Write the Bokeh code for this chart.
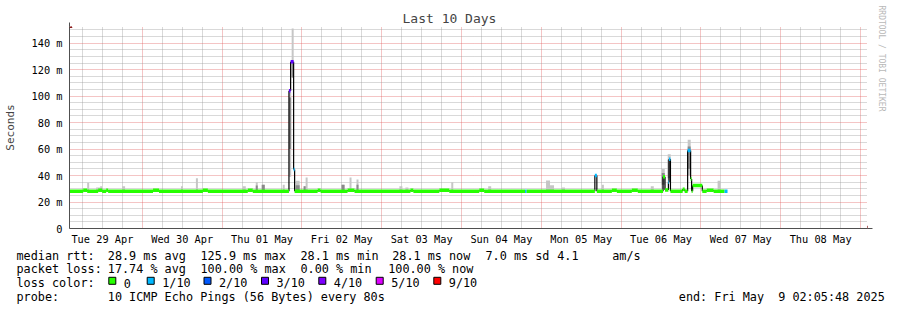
import numpy as np
import pandas as pd
from bokeh.plotting import figure
from bokeh.layouts import column
from bokeh.models import (Range1d, FixedTicker, Title, Arrow, NormalHead, Label)
from bokeh.embed import file_html
from bokeh.resources import INLINE

# ---------------- data ----------------
chart_title = "Last 10 Days"
y_axis_label = "Seconds"
watermark = "RRDTOOL / TOBI OETIKER"
graph_start = "2025-04-29 02:05:48"
graph_end = "2025-05-09 02:05:48"

day_dates = ["2025-04-29", "2025-04-30", "2025-05-01", "2025-05-02", "2025-05-03",
             "2025-05-04", "2025-05-05", "2025-05-06", "2025-05-07", "2025-05-08"]
day_labels = ["Tue 29 Apr", "Wed 30 Apr", "Thu 01 May", "Fri 02 May", "Sat 03 May",
              "Sun 04 May", "Mon 05 May", "Tue 06 May", "Wed 07 May", "Thu 08 May"]

y_ticks = [0, 20, 40, 60, 80, 100, 120, 140]
y_tick_labels = ["0", "20 m", "40 m", "60 m", "80 m", "100 m", "120 m", "140 m"]

loss_labels = ["0", "1/10", "2/10", "3/10", "4/10", "5/10", "9/10"]
loss_colors = ["#26ff00", "#00b8ff", "#0059ff", "#5e00ff", "#7e00ff", "#dd00ff", "#ff0000"]

# median rtt (ms) as steps: each value holds until the next time
median_time = [
    "2025-04-29 02:06", "2025-04-29 06:13", "2025-04-29 07:25", "2025-04-29 10:43",
    "2025-04-29 11:55", "2025-04-29 13:07", "2025-04-29 13:43", "2025-04-30 03:13",
    "2025-04-30 05:01", "2025-04-30 18:13", "2025-04-30 19:43", "2025-05-01 07:43",
    "2025-05-01 09:13", "2025-05-01 20:06", "2025-05-01 20:36", "2025-05-01 21:30",
    "2025-05-01 21:48", "2025-05-02 04:43", "2025-05-02 05:37", "2025-05-02 13:43",
    "2025-05-02 15:49", "2025-05-03 08:37", "2025-05-03 09:31", "2025-05-03 17:19",
    "2025-05-03 20:19", "2025-05-04 05:19", "2025-05-04 06:49", "2025-05-04 19:06",
    "2025-05-04 19:36", "2025-05-05 16:06", "2025-05-05 16:42", "2025-05-05 21:13",
    "2025-05-05 22:43", "2025-05-06 03:13", "2025-05-06 05:01", "2025-05-06 12:36",
    "2025-05-06 13:12", "2025-05-06 14:13", "2025-05-06 14:24", "2025-05-06 14:50",
    "2025-05-06 18:30", "2025-05-06 19:07", "2025-05-06 20:00", "2025-05-06 20:54",
    "2025-05-06 21:12", "2025-05-06 21:30", "2025-05-07 00:25", "2025-05-07 01:43",
    "2025-05-07 03:49", "2025-05-07 07:07",
]
median_ms = [
    28.1, 28.9, 28.1, 28.9, 28.1, 28.9, 28.1, 28.9, 28.1, 28.9, 28.1, 28.9,
    28.1, 104.0, 125.9, 44.6, 28.1, 28.9, 28.1, 28.9, 28.1, 28.9, 28.1, 28.9,
    28.1, 28.9, 28.1, 28.1, 28.1, 40.0, 28.1, 28.9, 28.1, 28.9, 28.1, 39.0,
    29.0, 35.0, 52.4, 28.1, 29.7, 28.1, 59.0, 37.4, 28.1, 32.5, 28.1, 28.9,
    28.1, 28.1,
]
median_loss = [
    0, 0, 0, 0, 0, 0, 0, 0, 0, 0, 0, 0,
    0, 3, 3, 1, 0, 0, 0, 0, 0, 0, 0, 0,
    0, 0, 0, 1, 0, 1, 0, 0, 0, 0, 0, 0,
    0, 1, 1, 0, 0, 0, 1, 0, 0, 0, 0, 0,
    0, 1,
]
median_last = "2025-05-07 08:00"   # 100 % loss afterwards

# smoke (spread of the pings), ms
smoke_from = [
    "2025-04-29 07:25", "2025-04-29 10:07", "2025-04-29 11:19", "2025-04-29 17:55",
    "2025-04-30 11:37", "2025-04-30 16:07", "2025-05-01 06:13", "2025-05-01 10:07",
    "2025-05-01 11:55", "2025-05-01 18:13", "2025-05-01 20:06", "2025-05-01 20:55",
    "2025-05-01 22:07", "2025-05-02 00:31", "2025-05-02 01:07", "2025-05-02 11:55",
    "2025-05-02 14:19", "2025-05-02 16:25", "2025-05-03 05:19", "2025-05-03 07:07",
    "2025-05-03 20:55", "2025-05-04 08:01", "2025-05-05 01:25", "2025-05-05 02:37",
    "2025-05-05 06:13", "2025-05-05 18:13", "2025-05-06 08:55", "2025-05-06 12:13",
    "2025-05-06 14:01", "2025-05-06 20:01", "2025-05-07 05:01",
]
smoke_to = [
    "2025-04-29 08:01", "2025-04-29 11:19", "2025-04-29 11:55", "2025-04-29 18:49",
    "2025-04-30 12:13", "2025-04-30 16:43", "2025-05-01 07:07", "2025-05-01 10:43",
    "2025-05-01 12:49", "2025-05-01 18:49", "2025-05-01 20:46", "2025-05-01 21:31",
    "2025-05-01 23:19", "2025-05-02 01:07", "2025-05-02 01:43", "2025-05-02 12:49",
    "2025-05-02 14:55", "2025-05-02 17:01", "2025-05-03 06:13", "2025-05-03 08:01",
    "2025-05-03 21:31", "2025-05-04 08:55", "2025-05-05 02:37", "2025-05-05 03:49",
    "2025-05-05 07:07", "2025-05-05 18:49", "2025-05-06 09:49", "2025-05-06 13:07",
    "2025-05-06 14:55", "2025-05-06 20:55", "2025-05-07 05:55",
]
smoke_min = [28, 28, 28, 28, 28, 28, 28, 28, 28, 28, 39, 114, 28, 28, 28, 28,
             28, 28, 28, 28, 28, 28, 28, 28, 28, 28, 28, 30, 35, 40, 28]
smoke_max = [34.6, 31, 32, 32, 32, 38, 32, 35, 33, 33, 103, 151, 36, 32, 38.6, 33,
             38.6, 37, 32, 31, 35, 32, 36.3, 32.7, 31, 33, 32, 45, 56, 67, 36]
core_lo = [np.nan, np.nan, 28, np.nan, np.nan, np.nan, np.nan, 28, 28, np.nan, 60, 114,
           28, 28, np.nan, 28, np.nan, 28, np.nan, np.nan, np.nan, np.nan, np.nan, np.nan,
           np.nan, np.nan, np.nan, 33, 38, 45, np.nan]
core_hi = [np.nan, np.nan, 30, np.nan, np.nan, np.nan, np.nan, 32.5, 33, np.nan, 99, 126,
           32.6, 32, np.nan, 33, np.nan, 33, np.nan, np.nan, np.nan, np.nan, np.nan, np.nan,
           np.nan, np.nan, np.nan, 42, 52, 62, np.nan]

stats_rtt = ["28.9 ms avg", "125.9 ms max", "28.1 ms min", "28.1 ms now", "7.0 ms sd", "4.1", "am/s"]
stats_loss = ["17.74 % avg", "100.00 % max", "0.00 % min", "100.00 % now"]
probe_text = "10 ICMP Echo Pings (56 Bytes) every 80s"
end_text = ["end: Fri May", "9 02:05:48 2025"]   # "end: Fri May  9 02:05:48 2025"

# ---------------- helpers ----------------
def to_ms(seq):
    return (pd.to_datetime(pd.Series(seq)).astype("int64") // 10**6).astype(float).to_numpy()

FONT = "DejaVu Sans Mono"
X0 = to_ms([graph_start])[0]
X1 = to_ms([graph_end])[0]
YTOP = 152.6
HOUR = 3600 * 1000.0

# ---------------- chart ----------------
p = figure(width=897, height=248, x_axis_type="datetime",
           x_range=Range1d(X0, X1), y_range=Range1d(0, YTOP),
           output_backend="svg", toolbar_location=None,
           min_border_left=67, min_border_right=30, min_border_top=26, min_border_bottom=20,
           background_fill_color="white", border_fill_color="white",
           outline_line_color=None, frame_align=False)

p.title.text = chart_title
p.title.text_font = FONT
p.title.text_font_size = "13px"
p.title.text_font_style = "normal"
p.title.align = "left"
p.title.offset = 333
p.title.standoff = 1

# grid
day_ms = to_ms(day_dates)
midnights = list(day_ms) + [day_ms[-1] + 24 * HOUR]
minor_x = [m + k * 6 * HOUR for m in [day_ms[0] - 24 * HOUR] + midnights for k in (1, 2, 3)]
minor_x = [m for m in minor_x if X0 <= m <= X1]
p.xgrid.ticker = FixedTicker(ticks=[m for m in midnights if X0 <= m <= X1], minor_ticks=minor_x)
p.ygrid.ticker = FixedTicker(ticks=[t for t in y_ticks if t > 0],
                             minor_ticks=[v for v in range(5, 155, 5) if v % 20 != 0])
for g in (p.xgrid[0], p.ygrid[0]):
    g.grid_line_color = "#e05a5a"
    g.grid_line_dash = "1 1"
    g.grid_line_alpha = 0.7
    g.minor_grid_line_color = "#999999"
    g.minor_grid_line_dash = "1 1"
    g.minor_grid_line_alpha = 0.75

# axes
noon_ms = [int(d + 12 * HOUR) for d in day_ms]
p.xaxis.ticker = FixedTicker(ticks=noon_ms)
p.xaxis.major_label_overrides = {t: lab for t, lab in zip(noon_ms, day_labels)}
p.yaxis.ticker = FixedTicker(ticks=y_ticks)
p.yaxis.major_label_overrides = {t: lab for t, lab in zip(y_ticks, y_tick_labels)}
p.yaxis.axis_label = y_axis_label
for ax in (p.xaxis[0], p.yaxis[0]):
    ax.axis_line_color = "#505050"
    ax.axis_line_width = 1
    ax.major_tick_out = 0
    ax.major_tick_in = 0
    ax.minor_tick_out = 0
    ax.minor_tick_in = 0
    ax.major_label_text_font = FONT
    ax.major_label_text_font_size = "10.3px"
    ax.major_label_text_color = "#000000"
p.xaxis.major_label_standoff = 4
p.yaxis.major_label_standoff = 7
p.yaxis.axis_label_text_font = FONT
p.yaxis.axis_label_text_font_size = "11px"
p.yaxis.axis_label_text_font_style = "normal"
p.yaxis.axis_label_standoff = 12

# smoke
sf, st = to_ms(smoke_from), to_ms(smoke_to)
p.quad(left=sf, right=st, bottom=smoke_min, top=smoke_max,
       fill_color="#c6c6c6", line_color=None)
p.quad(left=sf, right=st, bottom=core_lo, top=core_hi,
       fill_color="#8a8a8a", line_color=None)

# median
mt = to_ms(median_time)
mt_end = np.append(mt[1:], to_ms([median_last])[0])
mv = np.array(median_ms, dtype=float)
p.segment(x0=mt[1:], y0=mv[:-1], x1=mt[1:], y1=mv[1:], line_color="black", line_width=1.2)
p.segment(x0=mt, y0=mv, x1=mt_end, y1=mv,
          line_color=[loss_colors[i] for i in median_loss], line_width=3.5, line_cap="butt")

# axis arrows
arrow_c = "#8b1a1a"
y_px = 202.0 / YTOP
x_px = 800.0 / (X1 - X0)
p.add_layout(Arrow(end=NormalHead(size=5, fill_color=arrow_c, line_color=arrow_c),
                   x_start=X0, y_start=0, x_end=X0, y_end=YTOP + 4 / y_px,
                   line_color="#505050", line_width=1))
p.add_layout(Arrow(end=NormalHead(size=5, fill_color=arrow_c, line_color=arrow_c),
                   x_start=X0, y_start=0, x_end=X1 + 5 / x_px, y_end=0,
                   line_color="#505050", line_width=1))

p.add_layout(Title(text=watermark, text_font=FONT, text_font_size="8px",
                   text_color="#b8b8b8", text_font_style="normal", align="left",
                   offset=-21, standoff=18), "right")

# ---------------- legend / text block (page-pixel coordinates) ----------------
q = figure(width=897, height=62, x_range=Range1d(0, 897), y_range=Range1d(310, 248),
           output_backend="svg", toolbar_location=None, min_border=0,
           x_axis_location=None, y_axis_location=None, outline_line_color=None,
           background_fill_color="white", border_fill_color="white", frame_align=False)
q.grid.visible = False

LS = "11.8px"
rows = [255.0, 268.8, 282.8, 296.8]

def put(x, y, s):
    q.add_layout(Label(x=x, y=y, text=s, text_font=FONT, text_font_size=LS,
                       text_baseline="alphabetic", text_align="left",
                       text_color="#000000"))

put(16, rows[0], "median rtt:")
for x, s in zip([107.3, 200, 300, 391.7, 485, 556.7, 611.7], stats_rtt):
    put(x, rows[0], s)
put(16, rows[1], "packet loss:")
for x, s in zip([107.3, 200, 300, 387.7], stats_loss):
    put(x, rows[1], s)
put(16, rows[2], "loss color:")
box_x = [108.3, 146.7, 203.5, 261, 318.3, 375.7, 433.3]
for x, s in zip(box_x, loss_labels):
    put(x + 15, rows[2], s)
put(16, rows[3], "probe:")
put(107.3, rows[3], probe_text)
put(678.3, rows[3], end_text[0])
put(777.7, rows[3], end_text[1])

q.quad(left=box_x, right=[b + 7 for b in box_x], top=[276.8] * 7, bottom=[283.8] * 7,
       fill_color=loss_colors, line_color="#000000", line_width=1)

layout = column(p, q, spacing=0)
open("out.html", "w").write(file_html(layout, INLINE))
